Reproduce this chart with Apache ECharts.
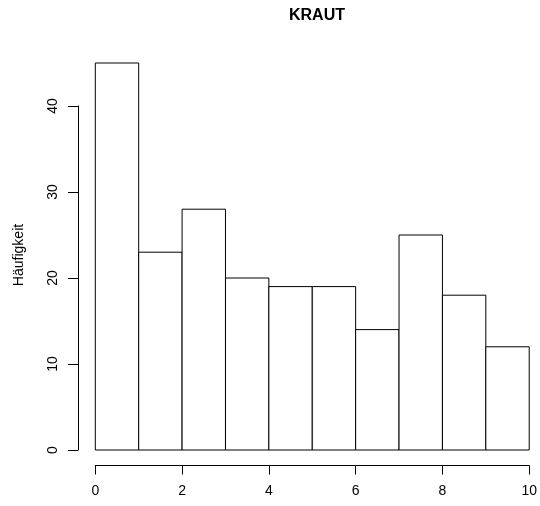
<!DOCTYPE html>
<html>
<head>
<meta charset="utf-8">
<script src="https://cdn.jsdelivr.net/npm/echarts@6/dist/echarts.min.js"></script>
<style>
  html, body { margin: 0; padding: 0; background: #fff; }
  #chart { width: 540px; height: 506px; }
</style>
</head>
<body>
<div id="chart"></div>
<script>
// Histogram bins (left and right edges) and their counts
var binStarts = [0, 1, 2, 3, 4, 5, 6, 7, 8, 9];
var binEnds   = [1, 2, 3, 4, 5, 6, 7, 8, 9, 10];
var counts    = [45, 23, 28, 20, 19, 19, 14, 25, 18, 12];

var titleText = 'KRAUT';
var yAxisTitle = 'Häufigkeit';

var binData = binStarts.map(function (s, i) { return [s, binEnds[i], counts[i]]; });

var chart = echarts.init(document.getElementById('chart'), null, { renderer: 'canvas' });

var font = 'Liberation Sans, Arial, sans-serif';

chart.setOption({
  animation: false,
  backgroundColor: '#ffffff',
  title: {
    text: titleText,
    left: 312,
    textAlign: 'center',
    top: 3,
    textStyle: { fontFamily: font, fontSize: 16, fontWeight: 'bold', color: '#000' }
  },
  grid: { left: 95.3, right: 10, top: 106, bottom: 56 },
  xAxis: {
    type: 'value',
    min: 0, max: 10, interval: 2,
    offset: 15.5,
    splitLine: { show: false },
    axisLine: { show: true, onZero: false, lineStyle: { color: '#000', width: 1 } },
    axisTick: { show: true, length: 9, lineStyle: { color: '#000' } },
    axisLabel: { fontFamily: font, fontSize: 14, color: '#000', margin: 19 }
  },
  yAxis: {
    type: 'value',
    min: 0, max: 40, interval: 10,
    offset: 17.3,
    name: yAxisTitle,
    nameLocation: 'middle',
    nameGap: 52,
    // centred on the full plotting height (0..45+) rather than the 0..40 axis line
    nameTextStyle: { fontFamily: font, fontSize: 14, color: '#000', padding: [0, 0, 0, 46] },
    splitLine: { show: false },
    axisLine: { show: true, onZero: false, lineStyle: { color: '#000', width: 1 } },
    axisTick: { show: true, length: 10, lineStyle: { color: '#000' } },
    axisLabel: { fontFamily: font, fontSize: 14, color: '#000', rotate: 90, margin: 18 }
  },
  series: [{
    type: 'custom',
    clip: false,
    data: binData,
    encode: { x: [0, 1], y: 2 },
    renderItem: function (params, api) {
      var p0 = api.coord([api.value(0), api.value(2)]);
      var p1 = api.coord([api.value(1), 0]);
      return {
        type: 'rect',
        shape: { x: p0[0], y: p0[1], width: p1[0] - p0[0], height: p1[1] - p0[1] },
        style: { fill: '#ffffff', stroke: '#000000', lineWidth: 1 }
      };
    }
  }]
});
</script>
</body>
</html>
